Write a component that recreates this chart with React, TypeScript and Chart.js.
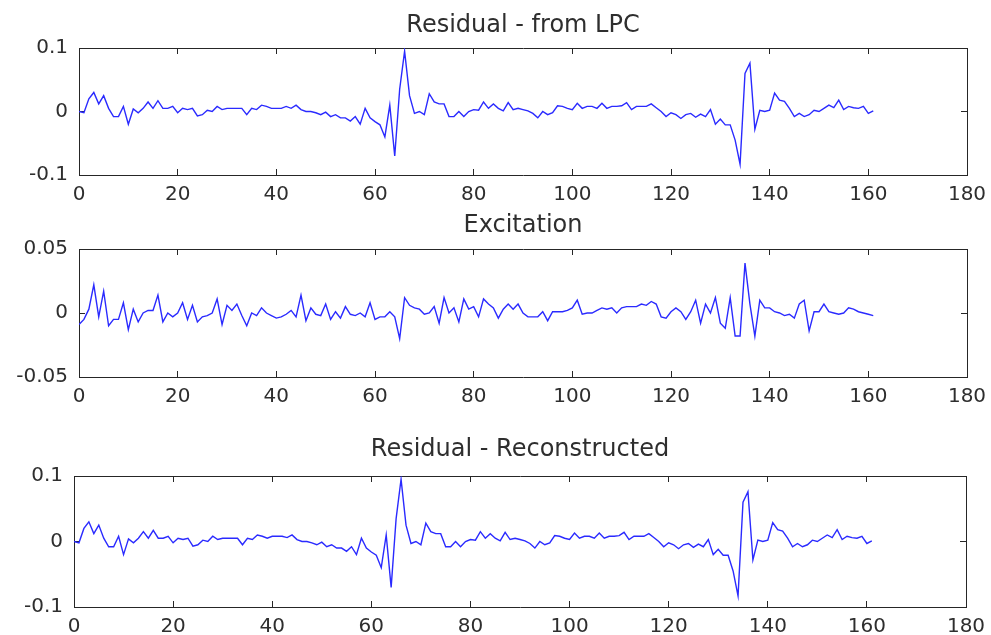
import { useEffect, useRef } from 'react';
import { Chart, registerables } from 'chart.js';

Chart.register(...registerables);

// ---- data (sample index = position in array) ----
const RESIDUAL_LPC = [
  0, -0.002, 0.02, 0.03, 0.012, 0.025, 0.005, -0.008, -0.008, 0.008,
  -0.02, 0.004, -0.002, 0.005, 0.015, 0.005, 0.017, 0.005, 0.005, 0.008,
  -0.002, 0.005, 0.003, 0.005, -0.007, -0.005, 0.002, 0.0, 0.008, 0.003,
  0.005, 0.005, 0.005, 0.005, -0.005, 0.005, 0.003, 0.01, 0.008, 0.005,
  0.005, 0.005, 0.008, 0.005, 0.01, 0.003, 0.0, 0.0, -0.002, -0.005,
  -0.001, -0.008, -0.005, -0.01, -0.01, -0.015, -0.008, -0.02, 0.005, -0.01,
  -0.016, -0.021, -0.04, 0.01, -0.07, 0.035, 0.095, 0.025, -0.003, 0.0,
  -0.005, 0.028, 0.015, 0.012, 0.012, -0.008, -0.008, 0.0, -0.008, 0.0,
  0.003, 0.002, 0.015, 0.005, 0.012, 0.005, 0.001, 0.014, 0.003, 0.005,
  0.003, 0.001, -0.003, -0.01, 0.0, -0.005, -0.002, 0.009, 0.008, 0.005,
  0.003, 0.013, 0.005, 0.008, 0.008, 0.005, 0.013, 0.005, 0.008, 0.008,
  0.009, 0.014, 0.003, 0.008, 0.008, 0.008, 0.012, 0.006, 0.0, -0.008,
  -0.002, -0.005, -0.011, -0.005, -0.003, -0.009, -0.004, -0.008, 0.003, -0.02,
  -0.012, -0.021, -0.021, -0.045, -0.083, 0.06, 0.076, -0.028, 0.002, 0.0,
  0.002, 0.029, 0.018, 0.016, 0.005, -0.008, -0.003, -0.008, -0.005, 0.002,
  0.0, 0.005, 0.01, 0.006, 0.018, 0.003, 0.008, 0.006, 0.005, 0.008,
  -0.003, 0.001,
];

const EXCITATION = [
  -0.009, -0.005, 0.003, 0.022, -0.003, 0.017, -0.01, -0.005, -0.005, 0.008,
  -0.013, 0.003, -0.007, 0.0, 0.002, 0.002, 0.014, -0.007, 0.0, -0.003,
  0.0, 0.008, -0.005, 0.006, -0.007, -0.003, -0.002, 0.0, 0.011, -0.009,
  0.006, 0.002, 0.007, -0.002, -0.01, 0.0, -0.002, 0.004, 0.0, -0.002,
  -0.004, -0.003, -0.001, 0.002, -0.003, 0.014, -0.006, 0.004, -0.001, -0.002,
  0.007, -0.005, 0.001, -0.004, 0.005, -0.001, -0.002, 0.0, -0.003, 0.008,
  -0.005, -0.003, -0.003, 0.001, -0.003, -0.02, 0.012, 0.006, 0.004, 0.003,
  -0.001, 0.0, 0.005, -0.008, 0.012, 0.0, 0.004, -0.007, 0.011, 0.003,
  0.005, -0.003, 0.011, 0.007, 0.004, -0.004, 0.003, 0.007, 0.003, 0.007,
  0.0, -0.003, -0.003, -0.003, 0.001, -0.006, 0.001, 0.001, 0.001, 0.002,
  0.004, 0.01, -0.001, 0.0, 0.0, 0.002, 0.004, 0.003, 0.004, 0.0,
  0.004, 0.005, 0.005, 0.005, 0.007, 0.006, 0.009, 0.007, -0.003, -0.004,
  0.001, 0.004, 0.001, -0.005, 0.001, 0.01, -0.008, 0.007, 0.0, 0.012,
  -0.008, -0.012, 0.012, -0.018, -0.018, 0.039, 0.007, -0.018, 0.01, 0.004,
  0.004, 0.001, 0.0, -0.002, -0.001, -0.004, 0.007, 0.01, -0.014, 0.001,
  0.001, 0.007, 0.001, 0.0, -0.001, 0.0, 0.004, 0.003, 0.001, 0.0,
  -0.001, -0.002,
];

const RESIDUAL_RECONSTRUCTED = [
  0, -0.002, 0.02, 0.03, 0.012, 0.025, 0.005, -0.008, -0.008, 0.008,
  -0.02, 0.004, -0.002, 0.005, 0.015, 0.005, 0.017, 0.005, 0.005, 0.008,
  -0.002, 0.005, 0.003, 0.005, -0.007, -0.005, 0.002, 0.0, 0.008, 0.003,
  0.005, 0.005, 0.005, 0.005, -0.005, 0.005, 0.003, 0.01, 0.008, 0.005,
  0.008, 0.008, 0.008, 0.006, 0.01, 0.003, 0.0, 0.0, -0.002, -0.005,
  -0.001, -0.008, -0.005, -0.01, -0.01, -0.015, -0.008, -0.02, 0.005, -0.01,
  -0.016, -0.021, -0.04, 0.01, -0.07, 0.035, 0.095, 0.025, -0.003, 0.0,
  -0.005, 0.028, 0.015, 0.012, 0.012, -0.008, -0.008, 0.0, -0.008, 0.0,
  0.003, 0.002, 0.015, 0.005, 0.012, 0.005, 0.001, 0.014, 0.003, 0.005,
  0.003, 0.001, -0.003, -0.01, 0.0, -0.005, -0.002, 0.009, 0.008, 0.005,
  0.003, 0.013, 0.005, 0.008, 0.008, 0.005, 0.013, 0.005, 0.008, 0.008,
  0.009, 0.014, 0.003, 0.008, 0.008, 0.008, 0.012, 0.006, 0.0, -0.008,
  -0.002, -0.005, -0.011, -0.005, -0.003, -0.009, -0.004, -0.008, 0.003, -0.02,
  -0.012, -0.021, -0.021, -0.045, -0.083, 0.06, 0.076, -0.028, 0.002, 0.0,
  0.002, 0.029, 0.018, 0.016, 0.005, -0.008, -0.003, -0.008, -0.005, 0.002,
  0.0, 0.005, 0.01, 0.006, 0.018, 0.003, 0.008, 0.006, 0.005, 0.008,
  -0.003, 0.001,
];

const X_TICKS = [0, 20, 40, 60, 80, 100, 120, 140, 160, 180];
const X_TICK_LABELS = ['0', '20', '40', '60', '80', '100', '120', '140', '160', '180'];
const Y_TICKS_RESIDUAL = [-0.1, 0, 0.1];
const Y_TICK_LABELS_RESIDUAL = ['-0.1', '0', '0.1'];
const Y_TICKS_EXCITATION = [-0.05, 0, 0.05];
const Y_TICK_LABELS_EXCITATION = ['-0.05', '0', '0.05'];
const TITLES = ['Residual - from LPC', 'Excitation', 'Residual - Reconstructed'];

// ---- styling / layout ----
const LINE_COLOR = '#2a2aff';
const TEXT_COLOR = '#2e2e2e';
const BOX_COLOR = '#262626';
const TICK_FONT = { family: '"DejaVu Sans", sans-serif', size: 20 };
// taller line box on the x labels pushes them below the inward tick marks
const X_TICK_FONT = { family: '"DejaVu Sans", sans-serif', size: 20, lineHeight: 2.6 };
const TITLE_FONT = { family: '"DejaVu Sans", sans-serif', size: 24, weight: 'normal' as const };
const INWARD_TICK = -6;

type PanelCfg = {
  title: string;
  values: number[];
  yTicks: number[];
  yLabels: string[];
  top: number;
  height: number;
  plotLeft: number;
  padRight: number;
  titlePadTop: number;
  titlePadBottom: number;
  xAxisH: number;
};

const PANELS: PanelCfg[] = [
  {
    title: TITLES[0], values: RESIDUAL_LPC, yTicks: Y_TICKS_RESIDUAL, yLabels: Y_TICK_LABELS_RESIDUAL,
    top: 0, height: 205, plotLeft: 79, padRight: 24, titlePadTop: 11, titlePadBottom: 8.2, xAxisH: 30,
  },
  {
    title: TITLES[1], values: EXCITATION, yTicks: Y_TICKS_EXCITATION, yLabels: Y_TICK_LABELS_EXCITATION,
    top: 200, height: 207, plotLeft: 79, padRight: 24, titlePadTop: 11.5, titlePadBottom: 8.7, xAxisH: 30,
  },
  {
    title: TITLES[2], values: RESIDUAL_RECONSTRUCTED, yTicks: Y_TICKS_RESIDUAL, yLabels: Y_TICK_LABELS_RESIDUAL,
    top: 420, height: 217, plotLeft: 74, padRight: 25, titlePadTop: 15.8, titlePadBottom: 11.4, xAxisH: 30,
  },
];

const gridInward = {
  display: true,
  drawOnChartArea: false,
  drawTicks: true,
  tickLength: INWARD_TICK,
  color: BOX_COLOR,
  tickColor: BOX_COLOR,
  tickWidth: 1,
  lineWidth: 1,
};
const boxBorder = { display: true, color: BOX_COLOR, width: 1 };

function Panel({ cfg }: { cfg: PanelCfg }) {
  const ref = useRef<HTMLCanvasElement>(null);
  useEffect(() => {
    const canvas = ref.current;
    if (!canvas) return;
    const yMin = cfg.yTicks[0];
    const yMax = cfg.yTicks[cfg.yTicks.length - 1];
    const xMin = X_TICKS[0];
    const xMax = X_TICKS[X_TICKS.length - 1];
    const setXTicks = (s: any) => {
      s.ticks = X_TICKS.map((v) => ({ value: v }));
    };
    const setYTicks = (s: any) => {
      s.ticks = cfg.yTicks.map((v) => ({ value: v }));
    };
    const chart = new Chart(canvas, {
      type: 'line',
      data: {
        datasets: [
          {
            data: cfg.values.map((v, i) => ({ x: i, y: v })),
            xAxisID: 'x',
            yAxisID: 'y',
            borderColor: LINE_COLOR,
            borderWidth: 1.4,
            pointRadius: 0,
            tension: 0,
            fill: false,
          },
        ],
      },
      options: {
        responsive: false,
        maintainAspectRatio: false,
        animation: false,
        events: [],
        layout: { padding: { left: 0, right: cfg.padRight, top: 0, bottom: 0 } },
        plugins: {
          legend: { display: false },
          tooltip: { enabled: false },
          title: {
            display: true,
            text: cfg.title,
            fullSize: false,
            color: TEXT_COLOR,
            font: TITLE_FONT,
            padding: { top: cfg.titlePadTop, bottom: cfg.titlePadBottom },
          },
        },
        scales: {
          x: {
            type: 'linear',
            position: 'bottom',
            min: xMin,
            max: xMax,
            grid: gridInward,
            border: boxBorder,
            ticks: {
              color: TEXT_COLOR,
              font: X_TICK_FONT,
              padding: 0,
              maxRotation: 0,
              autoSkip: false,
              callback: (v: any) => {
                const i = X_TICKS.indexOf(Number(v));
                return i >= 0 ? X_TICK_LABELS[i] : '';
              },
            },
            afterBuildTicks: setXTicks,
            afterFit: (s: any) => {
              s.height = cfg.xAxisH;
            },
          },
          xTop: {
            type: 'linear',
            position: 'top',
            min: xMin,
            max: xMax,
            grid: gridInward,
            border: boxBorder,
            ticks: { display: false },
            afterBuildTicks: setXTicks,
            afterFit: (s: any) => {
              s.height = 0;
            },
          },
          y: {
            type: 'linear',
            position: 'left',
            min: yMin,
            max: yMax,
            grid: gridInward,
            border: boxBorder,
            ticks: {
              color: TEXT_COLOR,
              font: TICK_FONT,
              padding: 11 - INWARD_TICK,
              autoSkip: false,
              callback: (v: any) => {
                const i = cfg.yTicks.findIndex((t) => Math.abs(t - Number(v)) < 1e-9);
                return i >= 0 ? cfg.yLabels[i] : '';
              },
            },
            afterBuildTicks: setYTicks,
            afterFit: (s: any) => {
              s.width = cfg.plotLeft;
            },
          },
          yRight: {
            type: 'linear',
            position: 'right',
            min: yMin,
            max: yMax,
            grid: gridInward,
            border: boxBorder,
            ticks: { display: false },
            afterBuildTicks: setYTicks,
            afterFit: (s: any) => {
              s.width = 0;
            },
          },
        },
      },
    });
    return () => chart.destroy();
  }, [cfg]);
  return (
    <canvas
      ref={ref}
      width={991}
      height={cfg.height}
      style={{ position: 'absolute', left: 0, top: cfg.top, width: 991, height: cfg.height }}
    />
  );
}

export default function App() {
  return (
    <div style={{ position: 'absolute', left: 0, top: 0, width: 991, height: 635, background: '#ffffff', overflow: 'hidden' }}>
      {PANELS.map((p) => (
        <Panel key={p.title} cfg={p} />
      ))}
    </div>
  );
}
